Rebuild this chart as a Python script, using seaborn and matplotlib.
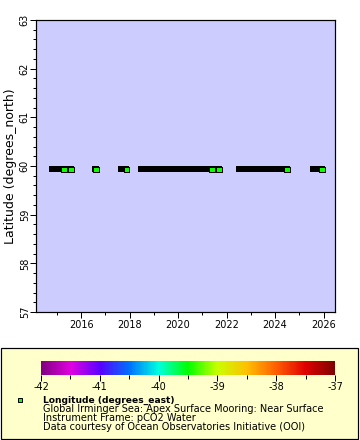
import matplotlib
matplotlib.use('Agg')
import matplotlib.pyplot as plt
import matplotlib.colors as mcolors
from matplotlib.lines import Line2D
from matplotlib.patches import Rectangle
from matplotlib.ticker import MultipleLocator
import seaborn as sns

# deployment coverage (decimal years) - dense data shown as black bars
seg_start = [2014.80, 2016.57, 2017.65, 2018.47, 2022.52, 2025.57]
seg_end = [2015.59, 2016.62, 2017.86, 2021.68, 2024.49, 2025.93]
station_lat = 59.93

# points whose colour is visible (isolated samples)
pt_time = [2015.30, 2015.59, 2016.62, 2017.86, 2021.40, 2021.69, 2024.49, 2025.94]
pt_lon = [-39.47, -39.47, -39.47, -39.47, -39.47, -39.47, -39.47, -39.47]

cbar_ticks = [-42, -41, -40, -39, -38, -37]
legend_lines = ['Global Irminger Sea: Apex Surface Mooring: Near Surface',
                'Instrument Frame: pCO2 Water',
                'Data courtesy of Ocean Observatories Initiative (OOI)']

rainbow = mcolors.LinearSegmentedColormap.from_list('erddap_rainbow', [
    '#800080', '#e000e0', '#5a00ff', '#0070ff', '#00ffe0', '#00ff00',
    '#c8ff00', '#ffc000', '#ff6000', '#e00000', '#800000'])
norm = mcolors.Normalize(-42, -37)

W, H = 360, 440
PX = 72 / 100.0  # one pixel in points


def fx(x):
    return x / W


def fy(y):
    return 1 - y / H


sns.set_style('ticks')
plt.rcParams['font.family'] = ['DejaVu Sans']
plt.rcParams['text.color'] = 'black'
plt.rcParams['axes.labelcolor'] = 'black'
plt.rcParams['xtick.color'] = 'black'
plt.rcParams['ytick.color'] = 'black'

fig = plt.figure(figsize=(W / 100, H / 100), dpi=100)
fig.patch.set_facecolor('white')

ax = fig.add_axes([fx(36), fy(312), fx(335) - fx(36), fy(20) - fy(312)])
ax.set_facecolor('#ccccff')

for s, e in zip(seg_start, seg_end):
    ax.plot([s, e], [station_lat, station_lat], color='black', lw=6 * PX,
            solid_capstyle='projecting', zorder=2)

sns.scatterplot(x=pt_time, y=[station_lat] * len(pt_time), hue=pt_lon,
                palette=rainbow, hue_norm=norm, marker='s', s=(5.4 * PX) ** 2,
                edgecolor='black', linewidth=PX, legend=False, ax=ax, zorder=3)

ax.set_xlim(2014.14, 2026.47)
ax.set_ylim(57, 63)
ax.xaxis.set_major_locator(MultipleLocator(2))
ax.xaxis.set_minor_locator(MultipleLocator(1))
ax.yaxis.set_major_locator(MultipleLocator(1))
ax.yaxis.set_minor_locator(MultipleLocator(0.2))
ax.xaxis.set_major_formatter(plt.FuncFormatter(lambda v, p: '%d' % v))
ax.tick_params(which='major', direction='out', length=4, width=PX, labelsize=7, pad=2)
ax.tick_params(axis='y', which='major', pad=0.5)
ax.tick_params(which='minor', direction='out', length=2.5, width=PX)
for lab in ax.get_yticklabels():
    lab.set_rotation(90)
    lab.set_va('center')
for sp in ax.spines.values():
    sp.set_visible(True)
    sp.set_linewidth(1.2 * PX)
    sp.set_color('black')
ax.set_ylabel('Latitude (degrees_north)', fontsize=9, labelpad=2)
ax.set_xlabel('')

# legend panel
fig.add_artist(Rectangle((fx(0.5), fy(439)), fx(358) - fx(0.5), fy(348) - fy(439),
                         transform=fig.transFigure, facecolor='#ffffcc',
                         edgecolor='black', lw=1.2 * PX, zorder=0))

cax = fig.add_axes([fx(41), fy(375), fx(335) - fx(41), fy(361) - fy(375)])
cb = matplotlib.colorbar.ColorbarBase(cax, cmap=rainbow, norm=norm,
                                      orientation='horizontal', ticks=cbar_ticks)
cb.outline.set_visible(False)
cax.xaxis.set_minor_locator(MultipleLocator(0.5))
cax.tick_params(which='major', direction='out', length=4, width=PX, labelsize=7, pad=1)
cax.tick_params(which='minor', direction='out', length=3, width=PX)
cax.set_xticklabels(['%d' % t for t in cbar_ticks])

fig.add_artist(Line2D([fx(20)], [fy(400)], marker='s', markersize=5 * PX,
                      markerfacecolor=rainbow(norm(pt_lon[0])),
                      markeredgecolor='black', markeredgewidth=PX,
                      transform=fig.transFigure))
fig.text(fx(43), fy(400), 'Longitude (degrees_east)', fontsize=6.6,
         fontweight='bold', va='center', ha='left')
for i, line in enumerate(legend_lines):
    fig.text(fx(43), fy(409 + 9 * i), line, fontsize=7, va='center', ha='left')

fig.savefig('out.png', dpi=100)
